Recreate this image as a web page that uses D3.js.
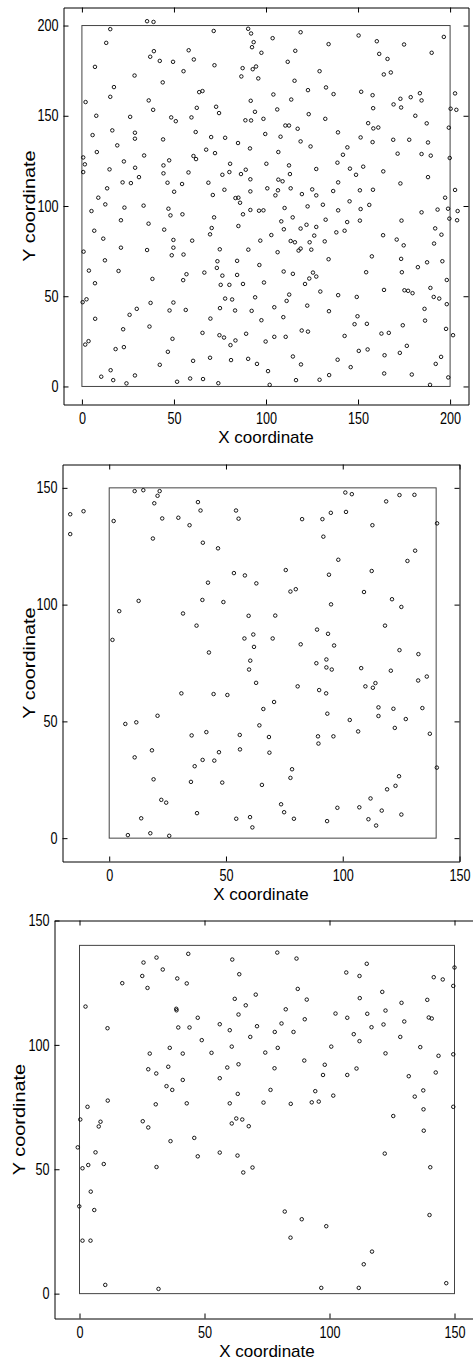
<!DOCTYPE html>
<html>
<head>
<meta charset="utf-8">
<script src="https://cdn.jsdelivr.net/npm/d3@7"></script>
<style>
body{margin:0;background:#fff;}
svg text{font-family:"Liberation Sans",Arial,Helvetica,sans-serif;fill:#000;}
</style>
</head>
<body>
<div id="chart"></div>
<script>
// node locations, one list per plot (x, y)
const pointsA = [
 [35.4,202.4],[38.9,202],[15.4,198],[13.2,190.4],[71.6,197],[90.3,198.2],
 [37.1,182.7],[39.1,185.8],[42.3,180.4],[49.5,179.9],[58,186.3],[60.8,181.2],[72,178],[7.1,177.1],[55.2,174.7],[87.3,176.4],[86.6,171.8],[28.6,172.3],[43.9,168.5],[17.4,165.9],[15.4,160.5],[63.7,163.1],[65.5,163.7],[2,157.6],[36.3,158.5],[38.7,153.3],[62.4,154.4],[72.9,155],[74.5,151.5],[7.8,150],[26.2,149.4],[48.5,149.1],[51,147],[59.5,149.1],[88.8,147.5],[5.8,139.3],[16.5,141.9],[28.8,140.6],[28.8,137.3],[61.8,141],[19.2,133.6],[44.1,136.9],[70.2,138.2],[77.8,137.8],[84.8,134.9],[67.5,131.2],[72.3,129.3],[8.1,129.9],[0.7,126.9],[1.6,123.1],[0.7,118.8],[15,120.3],[22.8,124.7],[33.8,128],[28.9,121.2],[44.3,122.5],[47.4,125.3],[60.6,127.7],[62,126],[44.3,118.1],[57.9,118.6],[80.5,123.4],[76.3,117.3],[80.1,118.8],[86.4,117.7],[89,120.1],[22.1,113.1],[26.6,112.7],[31,116],[46.5,112.9],[54.4,112.2],[68.7,112.9],[13.7,109.8],[50.1,107.9],[77.4,109],[71.1,106.1],[8.9,104.6],[83.4,104.4],[85,104.6],[85.9,101.8],[12.7,100.9],[23.1,99.1],[33.5,100.2],[47,98.5],[5.2,97.2],[54.6,95.4],[87.5,95.4],
 [91.9,195.6],[93.3,190.8],[92.4,188],[97.5,184.9],[103.6,193],[118.8,196.3],[134,189.7],[115.9,186],[111.8,179.9],[92.8,175.8],[94.6,177.3],[95.8,170.7],[129.1,174.7],[115.5,169.4],[150.3,194.5],[160.2,191.3],[175,189.5],[161.5,184.3],[166,181.5],[164,172.9],[167.8,174],[190,184.9],[196.6,193.7],[122.8,164.2],[132.6,165.7],[136.7,162],[104,161.8],[113.7,159],[91.7,158.3],[106.1,153.5],[94,152.2],[91.9,147.4],[98.6,148.3],[123.2,150.9],[132.2,148.3],[151.7,163.3],[157.9,161.4],[158.2,154.2],[169.3,156.3],[173,159.4],[173.4,154.6],[178.6,160.3],[183.6,162.5],[184.5,158.5],[181.1,150],[187.3,145.8],[202.7,162.4],[200.3,153.9],[203.4,153.3],[199.3,143.4],[155.5,145.9],[158.3,143],[161,143.5],[110.5,144.6],[112.5,144.6],[117.2,142.8],[99.6,139.9],[107.9,138.4],[118.8,135.8],[124.2,133],[106.7,129.9],[91.3,131.9],[139.1,140.8],[151.4,138],[157.9,135.4],[169.1,136.7],[177.8,136.7],[188,135.2],[171.5,129],[184.5,128.8],[189.5,127.9],[199.8,126.6],[144.2,132.5],[141.8,128.4],[138.8,124],[100.2,123.4],[112.5,122.5],[113,117.7],[127.3,120.5],[145.6,120.7],[148.9,117.3],[152.8,121.8],[163.7,119.2],[91.5,114.8],[91.5,108.1],[106.7,114.6],[109,113.7],[100.7,109.8],[106.5,108.7],[105.1,105.9],[113.4,109.8],[119.5,106.6],[125.1,109.2],[127.3,105.9],[136.5,108.3],[139.2,113.1],[151,108.7],[158.1,109],[173,112.5],[188,116],[202.7,108.9],[197.3,104.6],[91.5,97.8],[96.2,97.4],[98.6,97.6],[110.1,98.9],[122.6,99.8],[130.9,100.7],[139.2,97.6],[145.4,102.6],[151.4,98.3],[156.1,100.6],[184.5,96.5],[193.2,98],[198.9,98.5],[204.1,97.2],
 [48.1,94.8],[21.2,92.1],[36.2,90.2],[71.8,93.7],[6.7,86.3],[11.6,81.9],[44.7,86.9],[49.7,81.2],[59.9,80.8],[70.5,87.8],[69.6,84.3],[85,88.9],[0.9,74.7],[12.5,69.9],[21.2,76.9],[35.4,75.6],[49.7,76.9],[48.8,72.7],[55.2,73.1],[74.9,76],[73.6,69.4],[73.3,65.7],[84.3,69.6],[3.8,64.2],[19.9,64],[7.1,57.2],[38.3,59.6],[55,58.9],[56.8,62.2],[66.5,63.1],[76.3,61.4],[84.3,61.8],[75.4,56.3],[80.1,56.3],[0.4,46.7],[2.5,48.3],[7.2,37.5],[37.3,46.3],[49.7,46.5],[47.6,42.1],[56.4,42.4],[29.8,43],[25.9,39.7],[69.8,37.6],[77.8,48.7],[81.6,48.2],[75,43.4],[83.2,42.1],[22.4,31.7],[36.7,33.2],[65.5,29.7],[74.7,28.4],[77.2,27.1],[83.4,25.5],[80.7,22.9],[1.8,23.2],[3.6,25.1],[18.3,20.7],[22.8,21.8],[49.2,26.4],[46.7,19.2],[60.4,14.2],[69.6,15.9],[81,14.6],[42.3,12],[15.6,9],[10.5,5.4],[17,3.5],[24.2,1.7],[28.8,6.1],[51.7,2.6],[58.8,4.4],[65.8,4.1],[74.1,1.8],
 [108.3,91.5],[114.5,93.7],[144.1,91.1],[151,91.9],[173.6,91.9],[199.6,93],[203.8,92.1],[109.7,87.1],[118.8,87.5],[122,89.6],[127.3,88.4],[132.4,92.4],[138.2,85.4],[142.7,86.3],[102.9,83.9],[126.2,83.6],[123.7,79.9],[131.9,80.4],[113.4,80.6],[115.7,79.9],[96.9,80.8],[90.4,75.8],[106.3,74.4],[117.7,75.3],[118.8,76.4],[124.6,75.8],[134,70.5],[163.6,83.8],[171,81.4],[174.8,78.2],[191.9,87.6],[195.3,84.1],[191.3,79.2],[157.5,72.1],[173.4,70.7],[173.8,63.3],[182.5,66.1],[187.5,68.8],[195.8,69.4],[154.4,63.3],[96.4,67.3],[109.6,63.7],[114.6,62.4],[125.5,63.1],[127.3,60.9],[123.5,59.8],[121.2,56.8],[98.9,57.6],[87.5,56.8],[129.5,52.6],[94.1,49.4],[112.6,50.9],[111.2,47.4],[139.2,50.6],[149.3,49.6],[164.1,53.5],[175.2,53.3],[177.2,53],[179.6,51.7],[189.3,54.6],[191.1,49.6],[194.1,48.7],[198.2,59],[198.2,45.6],[104.5,43.9],[122.4,44.8],[92.2,41.9],[134.2,41.7],[97.5,36.7],[109.4,38.4],[186.1,43],[186.4,36.5],[149.7,38.9],[148.1,34.5],[154.8,34.7],[174.3,33.9],[89.2,29.2],[99.8,24.9],[104.5,27.5],[110.7,27.5],[119.4,31],[122.8,30.4],[142.7,28],[162.7,29.3],[166.7,29.7],[197.8,31.9],[201.6,28.4],[90.3,15.3],[95.1,12.5],[114.6,16.6],[119,12.2],[138.9,14.8],[146,10.7],[150.4,19.7],[155.2,20.5],[164.4,17.3],[172.7,18.6],[176.5,22.5],[192.2,12.5],[195.1,16.4],[101.1,8.5],[102,0.9],[116.3,3.5],[129.1,3.7],[134.3,6.3],[164.2,7.2],[179.2,6.6],[189.1,0.9],[199,5]
];
const pointsB = [
 [-16.7,138.7],[-16.7,130.2],[-11,140],[1.9,135.8],[10.9,148.6],[14.6,149],[19.3,143.4],[20.7,146.6],[21.6,148.6],[22.7,136.9],[18.7,128.3],[29.6,137.2],[34.4,134],[38,143.9],[39.1,140.3],[40.1,126.5],[46.6,124.1],[54.3,140.3],[55.4,136.8],[53.4,113.5],[42.3,109.4],[39.9,102],[48.9,101.1],[12.6,101.6],[4.3,97.2],[31.6,96.2],[37.4,91],[1.4,84.9],[42.7,79.5],
 [101.1,148],[103.9,147.3],[118.6,144.2],[124.3,146.9],[130.7,147],[82.6,136.6],[91.3,136.6],[94.9,139.3],[101.4,139.7],[112.7,134],[140.4,134.8],[91.7,129.1],[131,123.1],[127.7,118.7],[98.1,119.2],[58.1,112.5],[63,109.1],[75.6,114.8],[94.1,112.8],[112.4,114.4],[77.6,105.6],[79.9,106.6],[109.1,105.4],[121.1,102.3],[125.1,99],[95,100.1],[59.7,95.2],[71.1,95.3],[118.1,91],[89,89.3],[93.7,87.5],[57.9,85.5],[61.7,87.2],[70,85.5],[62,81.9],[82,83],[96.3,82.5],[124.3,80.5],[132.4,78.8],[60.4,76],[88.7,74.9],[93,76.5],
 [59.9,72.2],[62.9,66.5],[93,73.1],[95.3,72.2],[107.9,72.8],[120.6,71.7],[132.3,67.5],[136,69.2],[80.7,65],[89.9,63.4],[92.9,62],[109.7,65],[112.9,64.4],[114,66.4],[70.6,58.3],[66,55.3],[64.3,48.3],[55.9,44.2],[56,38],[68.4,43.3],[68.6,36.6],[93.4,53.3],[89.4,43.6],[89.6,40.5],[96,43.6],[103,50.6],[106.6,45.7],[115.3,56],[115.3,52.3],[121.7,55.4],[122.3,47.2],[127,51],[134.1,55.7],[137.3,44.7],[140.3,30.2],[78.3,29.5],[77.6,25.8],[65.4,22.8],[124.1,26.5],[122.6,22.4],[119,20.9],[111.9,17],[73.6,14.5],[74.9,11.1],[97.7,13],[107.1,13.2],[116.7,11.8],[125.1,10.1],[54.4,8.3],[60.3,9],[61.3,4.6],[79.1,8.3],[93.3,7.3],[111,8.1],[114.3,5.4],
 [30.9,62],[44.7,61.7],[50.6,61.3],[6.9,48.9],[11.6,49.6],[20.7,52.4],[35.3,44],[41.6,45.4],[10.9,34.6],[18.3,37.6],[36.6,30.8],[40,33.5],[45,33.2],[47,36.8],[19,25.2],[35,24.1],[48.4,23.8],[22.3,16.4],[24.4,15.2],[13.7,8.5],[37.6,10.7],[8,1.3],[17.6,2.1],[25.7,1]
];
const pointsC = [
 [43.5,136.6],[30.8,135.1],[25.6,133.1],[33.3,130.3],[25.1,127.7],[17.1,124.8],[27.2,122.9],[39.1,126.7],[42.9,124.7],[61.1,134.3],[63.9,128.4],[2.4,115.4],[38.7,114.5],[38.8,113.9],[62.1,118.5],[63.6,112.2],[47.3,110.9],[39.5,107],[44,107],[56.1,108.3],[60.1,105.9],[11.2,106.7],[48.9,101.9],[60.9,99.3],[36.1,98.8],[28.1,96.5],[41.3,96.5],[52.8,96.8],[63.6,92.2],[59.1,90.9],[35.5,91.2],[27.5,90.2],[30.7,88.5],[41.3,85.9],[56.1,86.6],[34.8,83.4],[37.1,81.9],[63.3,80.3],[11.3,77.6],[3.2,75.1],[30.5,76.1],[42.9,76.5],[60.1,76.5],[0.3,70],[8.4,69.1],[7.7,67.2],[25.3,69.3],[27.5,66.8],[60.9,68.4],[62.7,70.4],[65.1,70],
 [-0.7,58.8],[6.4,56.8],[1.2,50.4],[3.5,51.7],[9.7,52.1],[36.4,61.3],[45.9,62.6],[47.3,55.2],[56.1,56.7],[63.2,55.5],[30.8,50.9],[4.5,41],[-0.1,35.1],[5.9,33.6],[1.2,21.3],[4.4,21.3],[10.3,3.5],[31.6,1.9],
 [79.1,137.1],[86.8,134.7],[114.9,132.6],[106.7,129.1],[112,127.7],[150,131.1],[141.7,127.2],[145.3,126.3],[149.5,123.7],[87.3,122.5],[90.9,118.2],[70.5,120.2],[66.5,115.9],[82.5,114.3],[80.8,108.6],[78.1,105.2],[85.6,105.2],[90.1,110.3],[71,107.5],[68.3,103.2],[102.4,112.6],[107.1,110.9],[112.1,118.8],[115.1,112.5],[116.8,107.1],[109.7,104.3],[112,101.5],[121.1,121.3],[122.4,113.8],[121.6,108.2],[128.8,116.9],[129.9,109.4],[128.3,103.2],[139.1,118.1],[139.7,111],[140.9,110.6],[122.4,96.6],[136.3,99.1],[143.6,95.6],[149.5,96.2],[142.5,88.9],[131.7,87.4],[100.7,99.3],[79.3,98.8],[74.3,96.9],[89.9,93.7],[98.1,92],[97.4,87.9],[107.1,87.9],[110.8,90.5],[78,90.6],[76.4,81.9],[73.6,76.8],[84.5,76.3],[92.9,76.9],[95.7,77.2],[94.3,81.4],[101.5,79.6],[134.1,79.2],[137.5,81.7],[137.6,74.1],[149.5,75.1],[125.5,71.4],[67.7,67.3],[137.7,65.5],
 [65.5,48.7],[69.2,50.7],[122.1,56.3],[140.3,50.8],[140,31.6],[82.1,33],[88.9,29.9],[84.4,22.5],[98.7,27.1],[117,16.9],[113.7,11.8],[96.7,2.3],[111.7,2.3],[146.7,4.2]
];

// axis limits, ticks and the deployment area (width, height) of each plot
const xDomainA = [-10, 210], yDomainA = [-10, 210], xTicksA = [0, 50, 100, 150, 200], yTicksA = [0, 50, 100, 150, 200], areaA = [200, 200];
const xDomainB = [-20, 150], yDomainB = [-10, 160], xTicksB = [0, 50, 100, 150], yTicksB = [0, 50, 100, 150], areaB = [140, 150];
const xDomainC = [-10, 160], yDomainC = [-10, 150], xTicksC = [0, 50, 100, 150], yTicksC = [0, 50, 100, 150], areaC = [150, 140];

const xLabel = "X coordinate";
const yLabel = "Y coordinate";

class ScatterPanel{
    constructor(svg, points, xDomain, yDomain, xTicks, yTicks, area, box){
        this.svg = svg;
        this.points = points;
        this.xTicks = xTicks;
        this.yTicks = yTicks;
        this.area = area;
        this.box = box;

        this.xScale = d3.scaleLinear()
            .domain(xDomain)
            .range([box.left, box.right]);
        this.yScale = d3.scaleLinear()
            .domain(yDomain)
            .range([box.bottom, box.top]);
    }

    styleAxis(g, labels){
        g.attr("font-size", 16).attr("font-family", null);
        g.select(".domain").attr("stroke", "#000").attr("stroke-width", 1);
        g.selectAll(".tick line").attr("stroke", "#000");
        if(!labels){ g.selectAll(".tick text").remove(); }
    }

    draw(){
        let that = this;
        let box = this.box;
        let g = this.svg.append("g");

        // boundary of the deployment area
        g.append("rect")
            .attr("x", this.xScale(0))
            .attr("y", this.yScale(this.area[1]))
            .attr("width", this.xScale(this.area[0]) - this.xScale(0))
            .attr("height", this.yScale(0) - this.yScale(this.area[1]))
            .attr("fill", "none")
            .attr("stroke", "#444")
            .attr("stroke-width", 1);

        // matlab style box: ticks point inwards on all four sides
        let bottom = g.append("g")
            .attr("transform", "translate(0," + box.bottom + ")")
            .call(d3.axisBottom(this.xScale).tickValues(this.xTicks)
                .tickSizeInner(-5).tickSizeOuter(0).tickPadding(8));
        this.styleAxis(bottom, true);
        bottom.selectAll(".tick text").attr("transform", "scale(0.79,1)");

        let top = g.append("g")
            .attr("transform", "translate(0," + box.top + ")")
            .call(d3.axisTop(this.xScale).tickValues(this.xTicks)
                .tickSizeInner(-5).tickSizeOuter(0));
        this.styleAxis(top, false);

        let left = g.append("g")
            .attr("transform", "translate(" + box.left + ",0)")
            .call(d3.axisLeft(this.yScale).tickValues(this.yTicks)
                .tickSizeInner(-5).tickSizeOuter(0).tickPadding(6.3));
        this.styleAxis(left, true);
        left.selectAll(".tick text").attr("transform", "scale(0.79,1)");

        let right = g.append("g")
            .attr("transform", "translate(" + box.right + ",0)")
            .call(d3.axisRight(this.yScale).tickValues(this.yTicks)
                .tickSizeInner(-5).tickSizeOuter(0));
        this.styleAxis(right, false);

        g.append("g")
            .selectAll("circle")
            .data(this.points)
            .join("circle")
            .attr("cx", d => that.xScale(d[0]))
            .attr("cy", d => that.yScale(d[1]))
            .attr("r", 1.75)
            .attr("fill", "none")
            .attr("stroke", "#000")
            .attr("stroke-width", 0.9);

        g.append("text")
            .attr("x", (box.left + box.right) / 2)
            .attr("y", box.bottom + 38.5)
            .attr("text-anchor", "middle")
            .attr("font-size", 17)
            .text(xLabel);

        g.append("text")
            .attr("transform", "translate(" + box.yLabelX + "," + (box.top + box.bottom) / 2 + ") rotate(-90) scale(1.17,1)")
            .attr("text-anchor", "middle")
            .attr("font-size", 17)
            .text(yLabel);
    }
}

let svg = d3.select("#chart").append("svg")
    .attr("width", 473)
    .attr("height", 1362);

new ScatterPanel(svg, pointsA, xDomainA, yDomainA, xTicksA, yTicksA, areaA,
    {left: 63.5, right: 468.5, top: 7.5, bottom: 404.5, yLabelX: 35}).draw();
new ScatterPanel(svg, pointsB, xDomainB, yDomainB, xTicksB, yTicksB, areaB,
    {left: 62.5, right: 459.5, top: 464.5, bottom: 861.5, yLabelX: 35}).draw();
new ScatterPanel(svg, pointsC, xDomainC, yDomainC, xTicksC, yTicksC, areaC,
    {left: 54.5, right: 479.5, top: 920.5, bottom: 1318.5, yLabelX: 25}).draw();
</script>
</body>
</html>
